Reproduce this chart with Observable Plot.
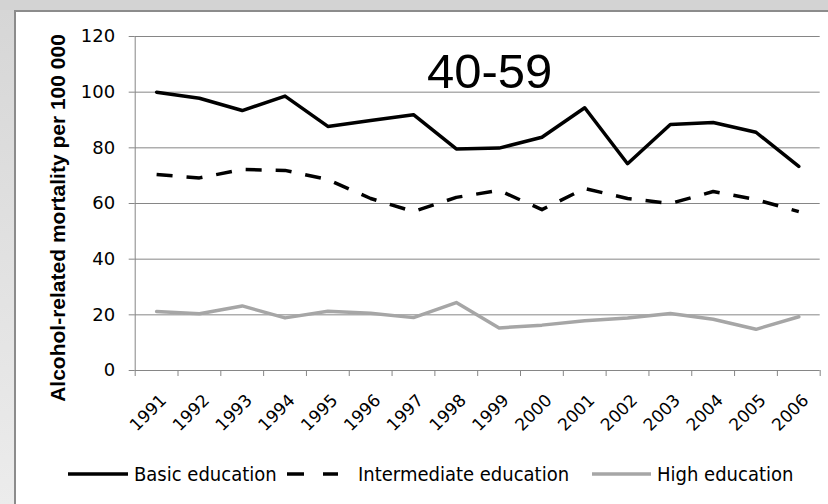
<!DOCTYPE html>
<html><head><meta charset="utf-8">
<script src="https://cdn.jsdelivr.net/npm/d3@7"></script>
<script src="https://cdn.jsdelivr.net/npm/@observablehq/plot@0.6"></script>
<style>
html,body{margin:0;padding:0;overflow:hidden;background:#fff;}
body{width:100%;height:504px;position:relative;}
#top{position:absolute;left:0;top:0;right:0;height:10px;background:#d3d3d3;}
#strip{position:absolute;left:0;top:10px;width:14px;height:494px;background:linear-gradient(#d6d6d6,#ececec);}
#panel{position:absolute;left:14px;top:10px;right:0;bottom:0;background:#fff;border-left:2px solid #8c8c8c;border-top:2px solid #8c8c8c;}
#chart{position:absolute;left:0;top:0;}
.item{position:absolute;top:460px;height:28px;display:flex;align-items:center;font-family:"DejaVu Sans Condensed","DejaVu Sans";font-stretch:condensed;font-size:20px;color:#000;white-space:nowrap;}
.item svg{display:block;}
</style></head>
<body>
<div id="top"></div>
<div id="strip"></div>
<div id="panel"></div>
<div id="chart"></div>
<div id="legend"></div>
<script>
const years = [1991,1992,1993,1994,1995,1996,1997,1998,1999,2000,2001,2002,2003,2004,2005,2006];
const basic = [100,97.8,93.4,98.6,87.7,89.8,91.9,79.6,79.9,83.8,94.4,74.3,88.4,89.1,85.6,73.3];
const intermediate = [70.4,69.2,72.2,71.9,68.6,61.8,57.1,62.2,64.7,57.8,65.4,61.8,60.0,64.3,61.4,57.1];
const high = [21.2,20.4,23.2,18.9,21.3,20.6,19.0,24.4,15.3,16.3,17.9,18.9,20.5,18.4,14.8,19.3];
const yTicks = [0,20,40,60,80,100,120];
const seriesNames = ["Basic education","Intermediate education","High education"];
const seriesColors = ["#000000","#000000","#a6a6a6"];
const seriesDash = [null,"16,14",null];
const titleText = "40-59";
const yTitle = "Alcohol-related mortality per 100 000";

const rows = years.flatMap((year,i)=>[
  {year, value: basic[i], series: seriesNames[0]},
  {year, value: intermediate[i], series: seriesNames[1]},
  {year, value: high[i], series: seriesNames[2]}
]);
const boundaries = d3.range(years.length+1).map(i => years[0]-0.5+i);
const gray = "#868686";

const lineMarks = [2,1,0].map(s => Plot.line(rows.filter(d=>d.series===seriesNames[s]), {
  x:"year", y:"value", stroke: seriesColors[s], strokeWidth:3.5,
  strokeDasharray: seriesDash[s] || undefined,
  strokeLinecap: seriesDash[s] ? "butt" : "round", strokeLinejoin:"round"
}));

const chart = Plot.plot({
  width: 828, height: 440,
  marginLeft: 134.7, marginRight: 8.3, marginTop: 36, marginBottom: 70,
  style: {background:"transparent", fontFamily:"'DejaVu Sans'", overflow:"visible"},
  x: {type:"linear", domain:[1990.5, 2006.5]},
  y: {domain:[0,120]},
  marks: [
    Plot.gridY(yTicks, {stroke:gray, strokeOpacity:1}),
    Plot.ruleX([1990.5], {stroke:gray}),
    Plot.axisY(yTicks, {tickSize:6, tickPadding:14, stroke:gray, fill:"#000", fontSize:18, label:null}),
    Plot.axisX(boundaries, {tickSize:6, tickFormat:()=> "", stroke:gray, label:null}),
    Plot.axisX(years, {tickSize:0, tickPadding:27, dx:7, tickRotate:-45, tickFormat:d=>String(d), fill:"#000", fontSize:17, label:null}),
    ...lineMarks,
    Plot.text([titleText], {frameAnchor:"top", dx:12, dy:17, fontSize:49, fontFamily:"'Liberation Sans', Arial", fill:"#000"}),
    Plot.text([yTitle], {frameAnchor:"left", rotate:-90, textAnchor:"middle", lineAnchor:"top", dx:-85, dy:14.5, fontSize:21, fontWeight:"bold", fontFamily:"'Liberation Sans', Arial", fill:"#000"})
  ]
});
document.getElementById("chart").appendChild(chart);

// legend
const legend = document.getElementById("legend");
const legendPos = [[68,60,6],[285,53,20],[592,59,6]];
seriesNames.forEach((name,s)=>{
  const [left,w,gap] = legendPos[s];
  const item = document.createElement("div");
  item.className = "item";
  item.style.left = left + "px";
  const sw = d3.create("svg").attr("width", w).attr("height", 10);
  sw.append("line").attr("x1",0).attr("x2",w).attr("y1",5).attr("y2",5)
    .attr("stroke", seriesColors[s]).attr("stroke-width",3.5)
    .attr("stroke-dasharray", seriesDash[s] ? "17,19" : null)
    .attr("stroke-dashoffset", seriesDash[s] ? -2 : null);
  item.appendChild(sw.node());
  const t = document.createElement("span");
  t.textContent = name;
  t.style.marginLeft = gap + "px";
  item.appendChild(t);
  legend.appendChild(item);
});
</script>
</body></html>
